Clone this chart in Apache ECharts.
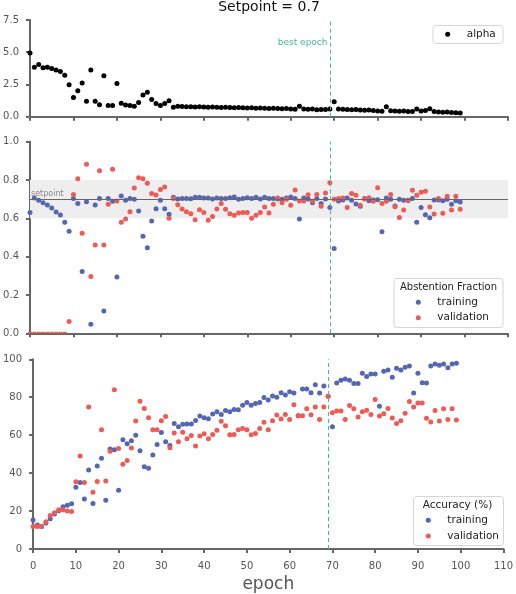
<!DOCTYPE html>
<html>
<head>
<meta charset="utf-8">
<script src="https://cdn.jsdelivr.net/npm/echarts@6/dist/echarts.min.js"></script>
<style>
  html, body { margin: 0; padding: 0; background: #fff; }
  #chart { width: 516px; height: 594px; }
</style>
</head>
<body>
<div id="chart"></div>
<script>
// training run, setpoint 0.7
var setpoint = 0.7;
var bestEpoch = 69;

var epochs = [];
for (var i = 0; i < 100; i++) epochs.push(i);

var xTicks = [0, 10, 20, 30, 40, 50, 60, 70, 80, 90, 100, 110];

var alpha = [4.94,3.84,4.04,3.79,3.84,3.74,3.63,3.50,3.22,2.48,
  1.48,2.02,2.61,1.20,3.63,1.20,0.92,3.17,0.87,0.87,
  2.58,1.05,0.90,0.87,0.82,1.10,1.69,1.89,1.33,1.02,
  0.87,1.02,1.23,0.74,0.82,0.80,0.78,0.78,0.76,0.77,
  0.75,0.74,0.76,0.73,0.72,0.73,0.71,0.70,0.71,0.70,
  0.68,0.69,0.66,0.67,0.65,0.64,0.66,0.63,0.62,0.63,
  0.60,0.58,0.82,0.60,0.57,0.59,0.54,0.56,0.55,0.59,
  1.15,0.60,0.57,0.56,0.53,0.55,0.52,0.50,0.52,0.48,
  0.45,0.43,0.77,0.47,0.45,0.43,0.44,0.41,0.40,0.59,
  0.45,0.48,0.61,0.40,0.37,0.35,0.36,0.32,0.30,0.28];

var abstTrain = [0.631,0.706,0.694,0.682,0.670,0.654,0.633,0.617,0.579,0.532,
  0.703,0.677,0.323,0.687,0.047,0.670,0.704,0.117,0.704,0.689,
  0.294,0.717,0.694,0.703,0.700,0.638,0.506,0.447,0.586,0.650,
  0.694,0.650,0.621,0.710,0.701,0.704,0.704,0.702,0.710,0.710,
  0.706,0.706,0.701,0.706,0.704,0.704,0.708,0.711,0.699,0.704,
  0.708,0.704,0.710,0.701,0.710,0.704,0.704,0.701,0.699,0.706,
  0.711,0.704,0.597,0.706,0.701,0.682,0.704,0.678,0.701,0.656,
  0.443,0.690,0.696,0.706,0.694,0.675,0.663,0.704,0.692,0.696,
  0.697,0.530,0.706,0.699,0.664,0.699,0.694,0.694,0.703,0.579,
  0.657,0.619,0.603,0.696,0.696,0.692,0.699,0.673,0.692,0.685];

var abstVal = [0,0,0,0,0,0,0,0,0,0.061,
  0.725,0.807,0.522,0.882,0.297,0.461,0.849,0.461,0.673,0.856,
  0.690,0.579,0.597,0.635,0.758,0.812,0.807,0.783,0.729,0.722,
  0.750,0.763,0.600,0.703,0.671,0.649,0.635,0.624,0.593,0.645,
  0.630,0.590,0.610,0.649,0.677,0.647,0.624,0.616,0.628,0.630,
  0.630,0.600,0.616,0.631,0.659,0.628,0.673,0.706,0.682,0.700,
  0.668,0.748,0.690,0.690,0.723,0.689,0.725,0.663,0.732,0.786,
  0.699,0.704,0.706,0.657,0.730,0.720,0.668,0.701,0.708,0.689,
  0.760,0.678,0.689,0.725,0.661,0.605,0.643,0.692,0.746,0.720,
  0.736,0.741,0.659,0.623,0.703,0.626,0.715,0.643,0.715,0.647];

var accTrain = [15.3,12.7,11.9,13.7,16.0,18.4,20.2,22.3,23.0,23.8,
  32.5,35.1,26.4,41.6,24.0,43.8,47.8,25.7,52.7,52.3,
  31.0,57.6,55.5,57.0,60.0,51.8,43.3,42.6,49.6,55.1,
  61.4,56.5,54.6,66.1,64.5,65.7,65.9,65.9,67.8,70.1,
  69.2,68.7,71.1,72.3,70.9,73.0,72.3,73.6,73.4,75.8,
  77.2,75.8,76.7,77.2,79.8,78.6,80.7,80.0,82.4,81.2,
  82.9,82.2,70.2,84.3,84.3,82.4,86.6,82.2,85.9,80.5,
  64.5,87.5,88.9,89.6,88.9,87.3,87.3,92.7,90.9,92.3,
  92.3,75.3,93.7,94.4,90.6,95.3,94.4,95.8,96.5,82.2,
  92.7,87.6,87.5,96.5,97.5,96.9,97.5,95.5,97.5,97.9];

var accVal = [11.8,11.8,11.8,14.3,17.6,19.1,20.7,20.7,20.0,19.8,
  35.5,49.0,35.1,74.8,29.9,35.6,62.8,35.8,51.5,84.0,
  53.0,44.7,46.6,53.2,67.5,77.9,74.1,69.2,62.8,62.8,
  67.6,69.9,53.4,61.2,56.6,61.6,58.1,59.8,54.3,59.6,
  60.7,58.1,60.3,62.6,67.3,65.0,60.2,60.3,62.9,63.5,
  62.8,60.2,60.9,63.5,66.8,62.9,67.6,70.6,68.5,70.9,
  68.2,76.0,70.2,70.2,73.9,70.8,74.9,68.3,74.9,80.5,
  71.8,72.7,72.7,68.3,75.6,73.9,69.6,72.3,73.2,70.9,
  78.8,70.1,71.3,74.1,69.0,66.1,67.6,71.5,77.7,74.8,
  76.9,76.9,68.9,66.9,73.0,67.5,73.9,68.2,73.9,68.0];

var FONT = 'DejaVu Sans';
var BLUE = '#5566b2', RED = '#ee5a55', TEAL = '#45b89b', AXIS = '#666';

function pts(vals) {
  return vals.map(function (v, i) {
    if (v === 0) {
      // sits on the lower limit: drawn half-clipped like the original
      return { value: [epochs[i], v], symbol: 'rect', symbolSize: [4, 1.5], symbolOffset: [0, -0.75] };
    }
    return [epochs[i], v];
  });
}

function xAxis(idx, labels) {
  return {
    type: 'value', gridIndex: idx, min: xTicks[0], max: xTicks[xTicks.length - 1], interval: 10,
    offset: idx == 2 ? 7 : 5,
    axisLine: { show: true, lineStyle: { color: AXIS, width: 2 } },
    axisTick: { show: true, length: 4, lineStyle: { color: AXIS, width: 2 } },
    axisLabel: { show: labels, margin: 5, fontSize: 10, color: '#555', fontFamily: FONT },
    splitLine: { show: false },
    name: labels ? 'epoch' : '', nameLocation: 'middle', nameGap: 20,
    nameTextStyle: { fontSize: 17, color: '#555', fontFamily: FONT }
  };
}

function yAxis(idx, min, max, interval, digits) {
  return {
    type: 'value', gridIndex: idx, min: min, max: max, interval: interval, offset: 6,
    axisLine: { show: true, lineStyle: { color: AXIS, width: 2 } },
    axisTick: { show: true, length: 4, lineStyle: { color: AXIS, width: 2 } },
    axisLabel: { margin: 5, fontSize: 10, color: '#555', fontFamily: FONT,
      formatter: function (v) { return v.toFixed(digits); } },
    splitLine: { show: false }
  };
}

var bestLine = {
  symbol: 'none', silent: true,
  lineStyle: { type: [4, 3], color: TEAL, width: 1 },
  label: { show: false },
  data: [{ xAxis: bestEpoch }]
};

function scatter(name, idx, vals, color, extra) {
  var s = {
    name: name, type: 'scatter', xAxisIndex: idx, yAxisIndex: idx,
    data: pts(vals), symbolSize: 5, clip: false,
    itemStyle: { color: color, opacity: 1 }
  };
  for (var k in extra) s[k] = extra[k];
  return s;
}

var legendText = { fontSize: 10.5, lineHeight: 14, color: '#222', fontFamily: FONT };

var chart = echarts.init(document.getElementById('chart'));
var option = {
  animation: false,
  title: {
    text: 'Setpoint = 0.7', left: 269, top: 0, padding: 0, textAlign: 'center',
    textStyle: { fontSize: 14, fontWeight: 'normal', color: '#111', fontFamily: FONT }
  },
  grid: [
    { left: 30, right: 8, top: 20, height: 96.7 },
    { left: 30, right: 8, top: 141.7, height: 191.6 },
    { left: 30, right: 8, top: 359.3, height: 191.7 }
  ],
  xAxis: [xAxis(0, false), xAxis(1, false), xAxis(2, true)],
  yAxis: [
    yAxis(0, 0, 7.5, 2.5, 1),
    yAxis(1, 0, 1, 0.2, 1),
    yAxis(2, 0, 100, 20, 0)
  ],
  legend: [
    { data: ['alpha'], left: 445.2, top: 27.3, padding: 0, itemWidth: 28, itemHeight: 5,
      icon: 'circle', selectedMode: false, textStyle: legendText, z: 20 },
    { data: ['training', 'validation'], orient: 'vertical', left: 415.8, top: 295.3, padding: 0,
      itemGap: 1.4, itemWidth: 28, itemHeight: 5, icon: 'circle', selectedMode: false, textStyle: legendText, z: 20 },
    { data: ['training', 'validation'], orient: 'vertical', left: 425.8, top: 513.3, padding: 0,
      itemGap: 1.7, itemWidth: 28, itemHeight: 5, icon: 'circle', selectedMode: false, textStyle: legendText, z: 20 }
  ],
  graphic: [
    { type: 'rect', z: 10, shape: { x: 433, y: 25.5, width: 70, height: 18, r: 3 },
      style: { fill: 'rgba(255,255,255,0.85)', stroke: '#d5d5d5', lineWidth: 1 } },
    { type: 'rect', z: 10, shape: { x: 394, y: 278.5, width: 109, height: 49, r: 3 },
      style: { fill: 'rgba(255,255,255,0.85)', stroke: '#d5d5d5', lineWidth: 1 } },
    { type: 'text', z: 11, style: { text: 'Abstention Fraction', x: 448.5, y: 287, align: 'center',
      verticalAlign: 'middle', fontSize: 10, fontFamily: FONT, fill: '#222' } },
    { type: 'rect', z: 10, shape: { x: 413.5, y: 496.5, width: 90, height: 49, r: 3 },
      style: { fill: 'rgba(255,255,255,0.85)', stroke: '#d5d5d5', lineWidth: 1 } },
    { type: 'text', z: 11, style: { text: 'Accuracy (%)', x: 457.5, y: 505, align: 'center',
      verticalAlign: 'middle', fontSize: 10.5, fontFamily: FONT, fill: '#222' } },
    { type: 'text', z: 11, style: { text: 'best epoch', x: 327.5, y: 42.5, align: 'right',
      verticalAlign: 'middle', fontSize: 9, fontFamily: FONT, fill: TEAL } }
  ],
  series: [
    scatter('alpha', 0, alpha, '#000', { markLine: bestLine }),
    scatter('training', 1, abstTrain, BLUE, {
      markArea: { silent: true, itemStyle: { color: '#eeeeee' },
        data: [[{ yAxis: setpoint - 0.1 }, { yAxis: setpoint + 0.1 }]] },
      markLine: {
        symbol: 'none', silent: true,
        lineStyle: { type: 'solid', color: '#666', width: 1.2 },
        label: { show: true, position: 'insideStartTop', formatter: 'setpoint', distance: 1,
          fontSize: 8, color: '#888', fontFamily: FONT },
        data: [{ yAxis: setpoint }]
      }
    }),
    scatter('validation', 1, abstVal, RED, { markLine: bestLine }),
    scatter('training', 2, accTrain, BLUE, {}),
    scatter('validation', 2, accVal, RED, { markLine: bestLine })
  ]
};
chart.setOption(option);
</script>
</body>
</html>
